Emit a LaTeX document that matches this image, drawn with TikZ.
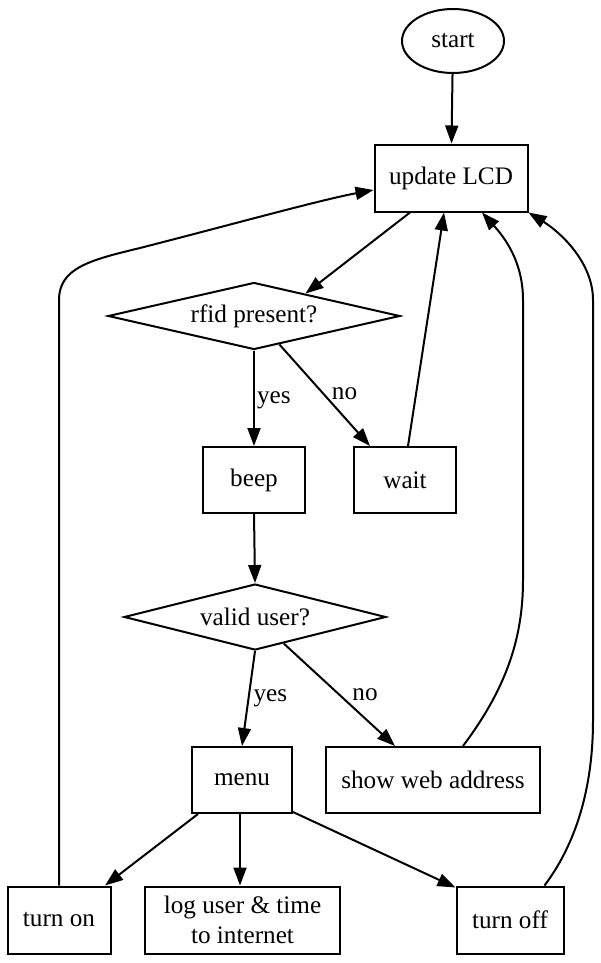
\documentclass[tikz,border=0pt]{standalone}
\usepackage{fontspec}
\setmainfont{Liberation Serif}
\usetikzlibrary{shapes.geometric,arrows.meta,calc}
\begin{document}
\begin{tikzpicture}[x=1pt,y=-1pt,
  every node/.style={font=\fontsize{25.2}{30}\selectfont, inner sep=0pt},
  box/.style={draw, line width=2pt, rectangle, minimum height=66pt, align=center},
  dia/.style={draw, line width=2pt, diamond, aspect=4.4},
  oval/.style={draw, line width=2pt, ellipse, minimum width=102pt, minimum height=64pt},
  lab/.style={font=\fontsize{25.2}{30}\selectfont},
  conn/.style={line width=2pt, -{Triangle[length=18pt,width=13pt]}, line join=round}
]
\useasboundingbox (0,0) rectangle (600,963);
\node[oval] (start) at (453,41) {start};
\node[box, minimum width=153pt, minimum height=67pt] (lcd) at (451,178) {update LCD};
\node[dia, minimum width=292pt, minimum height=67pt] (rfid) at (254,316) {rfid present?};
\node[box, minimum width=102pt] (beep) at (254,480) {beep};
\node[box, minimum width=102pt] (wait) at (405,480) {wait};
\node[dia, minimum width=262pt, minimum height=66pt] (valid) at (255,617) {valid user?};
\node[box, minimum width=100pt] (menu) at (242,780) {menu};
\node[box, minimum width=214pt] (web) at (433,780) {show web address};
\node[box, minimum width=103pt, minimum height=67pt] (turnon) at (59,920) {turn on};
\node[box, minimum width=195pt, minimum height=67pt] (log) at (242.5,920) {log user \& time\\to internet};
\node[box, minimum width=107pt, minimum height=67pt] (turnoff) at (510,920) {turn off};

\draw[conn] (start) -- (lcd);
\draw[conn] ($(lcd.south)+(-41,0)$) -- ($(rfid.north east)!0.3!(rfid.north)$);
\draw[conn] (rfid.south) -- node[lab, right=2pt, pos=0.52] {yes} (beep.north);
\draw[conn] (rfid) -- node[lab, pos=0.48, right=8pt] {no} ($(wait.north)+(-35,0)$);
\draw[conn] ($(wait.north)+(3,0)$) -- ($(lcd.south)+(-7,0)$);
\draw[conn] (beep.south) -- (valid.north);
\draw[conn] (valid.south) -- node[lab, right=4pt, pos=0.5] {yes} (menu.north);
\draw[conn] (valid) -- node[lab, pos=0.5, right=12pt] {no} ($(web.north)+(-38,0)$);
\draw[conn] ($(web.north)+(30,0)$) .. controls (505,690) and (523,640) .. (523,580)
  -- (523,300) .. controls (523,262) and (505,238) .. ($(lcd.south)+(31,0)$);
\draw[conn] ($(menu.south)+(-44,0)$) -- ($(turnon.north)+(46,0)$);
\draw[conn] ($(menu.south)+(-2,0)$) -- ($(log.north)+(-2.5,0)$);
\draw[conn] ($(menu.south east)+(0,-2)$) -- ($(turnoff.north west)+(0,2)$);
\draw[conn] ($(turnoff.north east)+(-20,0)$) .. controls (575,845) and (593,790) .. (593,720)
  -- (593,300) .. controls (593,262) and (560,232) .. (lcd.south east);
\draw[conn] (turnon.north) -- (59,300) .. controls (59,268) and (90,260) .. (140,248)
  .. controls (230,225) and (320,200) .. ($(lcd.west)+(0,12)$);
\end{tikzpicture}
\end{document}
